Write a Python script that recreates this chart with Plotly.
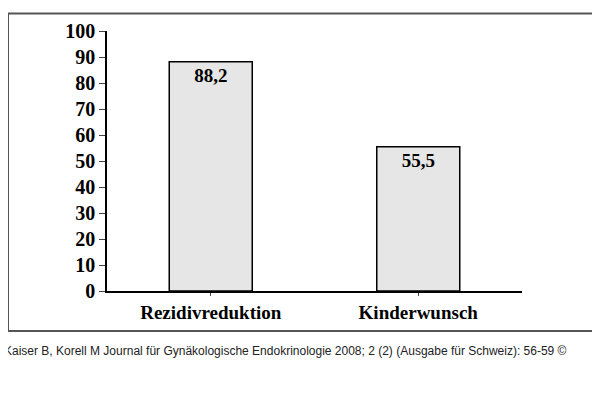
import plotly.graph_objects as go

categories = ["Rezidivreduktion", "Kinderwunsch"]
values = [88.2, 55.5]
labels = ["88,2", "55,5"]
yticks = list(range(0, 101, 10))

fig = go.Figure(go.Bar(
    x=[0, 1], y=values, width=0.4, text=labels, textposition="inside",
    insidetextanchor="end",
    textfont=dict(family="Liberation Serif", size=19, color="black"),
    marker=dict(color="#e6e6e6", line=dict(color="black", width=1.5)),
))
fig.update_layout(
    width=600, height=401, plot_bgcolor="white", paper_bgcolor="white",
    margin=dict(l=99, r=86, t=16, b=118), showlegend=False,
    font=dict(family="Liberation Serif", color="black"),
    shapes=[dict(type="rect", xref="paper", yref="paper",
                 x0=-99/415, x1=(597-107)/415, y0=-(332-291)/267, y1=(291-6)/267,
                 line=dict(color="#555", width=2), fillcolor="rgba(0,0,0,0)")],
    annotations=[dict(text="Kaiser B, Korell M Journal für Gynäkologische Endokrinologie 2008; 2 (2) (Ausgabe für Schweiz): 56-59 ©",
                      xref="paper", yref="paper", x=-105/415, y=-(353-291)/267,
                      xanchor="left", yanchor="middle", showarrow=False,
                      font=dict(family="Liberation Sans", size=12, color="#222"))],
)
fig.update_traces(textangle=0, cliponaxis=False)
fig.update_xaxes(range=[-0.5, 1.5], tickvals=[0, 1], ticktext=[f"<b>{c}</b>" for c in categories],
                 showline=True, linecolor="black", linewidth=1.5, ticks="outside", ticklen=3,
                 tickfont=dict(size=19), showgrid=False)
fig.update_yaxes(range=[0, 100], tickvals=yticks, ticktext=[f"<b>{t}</b>" for t in yticks],
                 showline=True, linecolor="black", linewidth=1.5, ticks="outside", ticklen=6,
                 tickfont=dict(size=20), showgrid=False, zeroline=False)
fig.data[0].texttemplate = "<b>%{text}</b>"
fig.write_html("out.html")
